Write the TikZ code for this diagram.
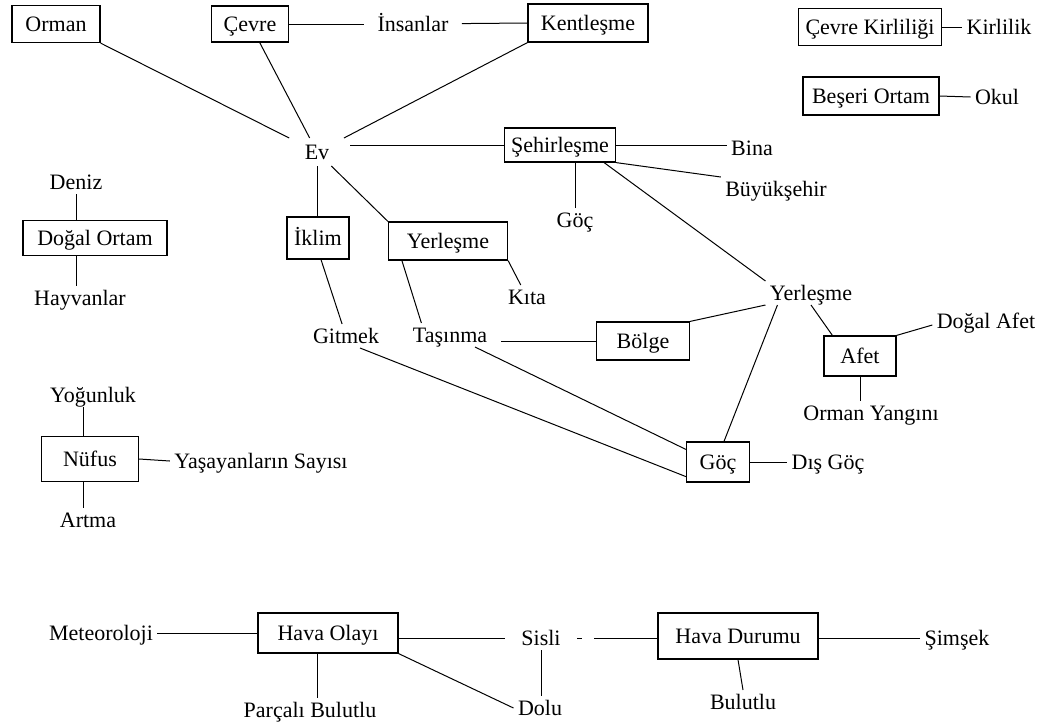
\documentclass[tikz,border=0pt]{standalone}
\usepackage{fontspec}
\setmainfont{Liberation Serif}
\usepackage{tikz}
\usetikzlibrary{positioning,calc}

\begin{document}
\begin{tikzpicture}[x=1pt,y=-1pt,line width=1pt]
   \useasboundingbox (0,0) rectangle (1041,724);
   \fontsize{22}{26}\selectfont
   \tikzstyle{yazi}=[inner sep=4pt, text height=15pt, text depth=0pt]
   \tikzstyle{kutu}=[yazi, draw, rectangle, line width=1.2pt]
   % kutular
   \foreach \ad/\x/\y/\w/\h/\metin in {orman/56/24/88/37/{Orman}, cevre/250/24/77/36/{Çevre},
       kentlesme/588/23/120/38/{Kentleşme}, kirlilikkutu/870/27/143/37/{Çevre Kirliliği},
       beseri/871/96/136/38/{Beşeri Ortam}, sehirlesme/560/145/111/34/{Şehirleşme},
       dogalortam/95/238/144/35/{Doğal Ortam}, iklim/318/238/62/42/{İklim},
       yerlesme/448/241/119/38/{Yerleşme}, bolge/643/341/93/38/{Bölge}, afet/860/356/72/40/{Afet},
       gockutu/718/462/63/40/{Göç}, nufus/90/459/97/45/{Nüfus},
       havaolayi/328/633/140/40/{Hava Olayı}, havadurumu/738/636/160/46/{Hava Durumu}} {
       \node[kutu, minimum width=\w pt, minimum height=\h pt] (\ad) at (\x,\y) {\metin};
   }
   % yazilar
   \foreach \ad/\x/\y/\metin in {bina/752/148/{Bina}, buyuksehir/776/189/{Büyükşehir},
       gocyazi/575/220/{Göç}, gitmek/346/336/{Gitmek}, kita/527/297/{Kıta},
       yerlesmesag/811/293/{Yerleşme}, dogalafet/986/321/{Doğal Afet},
       ormanyangini/871/413/{Orman Yangını}, disgoc/828/462/{Dış Göç},
       kirlilik/999/27/{Kirlilik}, okul/997/97/{Okul}, deniz/76/182/{Deniz},
       hayvanlar/80/298/{Hayvanlar}, yogunluk/93/395/{Yoğunluk},
       yasayan/261/461/{Yaşayanların Sayısı}, artma/88/520/{Artma},
       meteoroloji/101/633/{Meteoroloji}, dolu/540/708/{Dolu},
       parcali/310/710/{Parçalı Bulutlu}, bulutlu/743/702/{Bulutlu}, simsek/957/638/{Şimşek}} {
       \node[yazi] (\ad) at (\x,\y) {\metin};
   }
   \node[yazi, inner xsep=13pt] (insanlar) at (413,24) {İnsanlar};
   \node[yazi, inner xsep=20pt, inner ysep=6pt] (ev) at (317,152) {Ev};
   \node[yazi, inner xsep=13pt] (tasinma) at (450,335) {Taşınma};
   \node[yazi, inner xsep=16pt] (sisli) at (541,638) {Sisli};

   % ust kisim
   \draw (orman.south east) -- (ev);
   \draw (cevre) -- (ev);
   \draw (kentlesme.south west) -- (ev);
   \draw (cevre.east) -- (insanlar);
   \draw (insanlar) -- (kentlesme.west);
   \draw (sehirlesme.west) -- (sehirlesme.west -| ev.east);
   \draw (sehirlesme.east) -- (sehirlesme.east -| bina.west);
   \draw (sehirlesme.south east) -- (buyuksehir.north west);
   \draw (gocyazi.north) -- (gocyazi.north |- sehirlesme.south);
   \draw ([xshift=-12pt]sehirlesme.south east) -- (yerlesmesag.north west);
   \draw (ev.south) -- (ev.south |- iklim.north);
   \draw (ev) -- (yerlesme.north west);
   \draw ([xshift=3pt]iklim.south) -- (gitmek);
   \draw (yerlesme.south east) -- (kita);
   \draw ([xshift=14pt]yerlesme.south west) -- ([xshift=22pt]tasinma.north west);
   \draw (bolge.west) -- (bolge.west -| tasinma.east);
   \draw (bolge.north east) -- (yerlesmesag.south west);
   \draw (yerlesmesag.south) -- ([xshift=9pt]afet.north west);
   \draw (afet.north east) -- ([yshift=-4pt]dogalafet.west);
   \draw (afet.south) -- (afet.south |- ormanyangini.north);
   \draw ([xshift=12pt]yerlesmesag.south west) -- ([xshift=6pt]gockutu.north);
   \draw (gockutu.east) -- (disgoc.west);
   \draw ([xshift=14pt]gitmek.south) -- ([yshift=6pt]gockutu.south west);
   \draw ([xshift=25pt]tasinma.south) -- ([yshift=-8pt]gockutu.north west);
   \draw (kirlilikkutu.east) -- (kirlilik.west);
   \draw (beseri.east) -- (okul.west);

   % sol taraf
   \draw (deniz.south) -- (deniz.south |- dogalortam.north);
   \draw (dogalortam.south -| deniz.south) -- (hayvanlar.north -| deniz.south);
   \draw ([xshift=-7pt]nufus.north) -- ([xshift=-7pt]nufus.north |- yogunluk.south);
   \draw ([xshift=-7pt]nufus.south) -- ([xshift=-7pt]nufus.south |- artma.north);
   \draw (nufus.east) -- (yasayan.west);

   % alt kisim
   \draw (meteoroloji.east) -- (havaolayi.west);
   \draw (sisli.west -| havaolayi.east) -- (sisli.west);
   \draw[dash pattern=on 5pt off 12pt on 300pt] (sisli.east) -- (sisli.east -| havadurumu.west);
   \draw (sisli.south) -- (sisli.south |- dolu.north);
   \draw (havaolayi.south east) -- (dolu.west);
   \draw ([xshift=-11pt]havaolayi.south) -- ([xshift=-11pt]havaolayi.south |- parcali.north);
   \draw (simsek.west) -- (simsek.west -| havadurumu.east);
   \draw (havadurumu.south) -- (bulutlu.north);
\end{tikzpicture}
\end{document}
